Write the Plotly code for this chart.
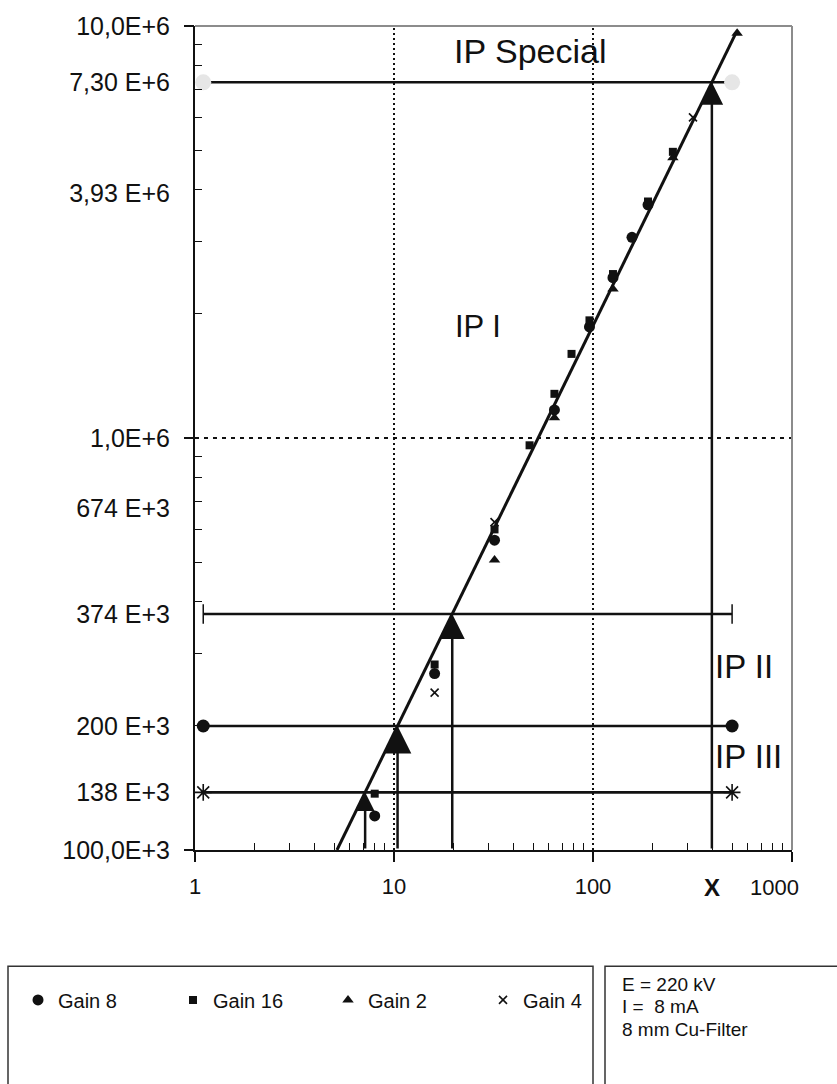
import math
import plotly.graph_objects as go

# ---- measured signal per gain setting (x: exposure, y: grey value) ----
gain8_x = [8, 16, 32, 64, 96, 126, 157, 189]
gain8_y = [121e3, 268e3, 565e3, 1.17e6, 1.86e6, 2.45e6, 3.07e6, 3.68e6]
gain16_x = [8, 16, 32, 48, 64, 78, 96, 126, 189, 252]
gain16_y = [137e3, 282e3, 600e3, 960e3, 1.28e6, 1.60e6, 1.93e6, 2.50e6, 3.75e6, 4.95e6]
gain2_x = [32, 64, 126, 252, 530]
gain2_y = [506e3, 1.12e6, 2.30e6, 4.79e6, 9.60e6]
gain4_x = [16, 32, 318]
gain4_y = [241e3, 625e3, 6.0e6]

# ---- power-law fit through all gains (end points of the drawn line) ----
fit_x = [5.17, 523]
fit_y = [1.0e5, 9.62e6]

# ---- image plate limits ----
level_names = ["IP Special", "IP I/II", "IP II/III", "IP III"]
level_y = [7.30e6, 374e3, 200e3, 138e3]
level_x = [1.1, 500]

# ---- axis labels ----
ytick_vals = [1e7, 7.30e6, 3.93e6, 1e6, 674e3, 374e3, 200e3, 138e3, 1e5]
ytick_text = ["10,0E+6", "7,30 E+6", "3,93 E+6", "1,0E+6", "674 E+3",
              "374 E+3", "200 E+3", "138 E+3", "100,0E+3"]
xtick_vals = [1, 10, 100, 1000]
xtick_text = ["1", "10", "100", ""]

FONT = "Liberation Sans, Arial, sans-serif"
BLACK = "#111111"

# fit parameters: y = a * x^b
b = math.log10(fit_y[1] / fit_y[0]) / math.log10(fit_x[1] / fit_x[0])
log_a = math.log10(fit_y[0]) - b * math.log10(fit_x[0])


def x_on_fit(y):
    return 10 ** ((math.log10(y) - log_a) / b)


fig = go.Figure()

# reference grid: dotted verticals at 10 and 100, dashed horizontal at 1E+6
for xv in [10, 100]:
    fig.add_trace(go.Scatter(x=[xv, xv], y=[1e5, 1e7], mode="lines",
                             line=dict(color=BLACK, width=2, dash="2px,3px"),
                             showlegend=False, hoverinfo="skip"))
fig.add_trace(go.Scatter(x=[1, 1000], y=[1e6, 1e6], mode="lines",
                         line=dict(color=BLACK, width=1.8, dash="4px,5px"),
                         showlegend=False, hoverinfo="skip"))

# plate limit lines
level_markers = [
    dict(symbol="circle", size=16, color="#e6e6e6"),
    dict(symbol="line-ns-open", size=14, color=BLACK, line=dict(color=BLACK, width=1.5)),
    dict(symbol="circle", size=13, color=BLACK),
    dict(symbol="asterisk-open", size=14, color=BLACK, line=dict(color=BLACK, width=1.6)),
]
for yv, mk in zip(level_y, level_markers):
    fig.add_trace(go.Scatter(x=level_x, y=[yv, yv], mode="lines+markers",
                             line=dict(color=BLACK, width=2.6), marker=mk,
                             showlegend=False, hoverinfo="skip"))

# fitted line
fig.add_trace(go.Scatter(x=fit_x, y=fit_y, mode="lines",
                         line=dict(color=BLACK, width=3),
                         showlegend=False, hoverinfo="skip"))

# measured points
fig.add_trace(go.Scatter(x=gain8_x, y=gain8_y, mode="markers", name="Gain 8",
                         marker=dict(symbol="circle", size=11, color=BLACK)))
fig.add_trace(go.Scatter(x=gain16_x, y=gain16_y, mode="markers", name="Gain 16",
                         marker=dict(symbol="square", size=8, color=BLACK)))
fig.add_trace(go.Scatter(x=gain2_x, y=gain2_y, mode="markers", name="Gain 2",
                         marker=dict(symbol="triangle-up", size=10, color=BLACK)))
fig.add_trace(go.Scatter(x=gain4_x, y=gain4_y, mode="markers", name="Gain 4",
                         marker=dict(symbol="x-thin-open", size=8, color=BLACK,
                                     line=dict(color=BLACK, width=1.6))))

# carrier trace for the overlay axis that holds the decade ticks
fig.add_trace(go.Scatter(x=[1], y=[1e6], xaxis="x", yaxis="y2", mode="markers",
                         marker=dict(opacity=0), showlegend=False, hoverinfo="skip"))

annotations = []
# arrows from the x axis up to where the fit meets each plate limit
head_sizes = [1.8, 2.0, 2.2, 1.5]
for yv, hs in zip(level_y, head_sizes):
    xv = x_on_fit(yv)
    annotations.append(dict(
        x=math.log10(xv), y=math.log10(yv), ax=math.log10(xv), ay=5,
        xref="x", yref="y", axref="x", ayref="y", text="",
        showarrow=True, arrowhead=2, arrowsize=hs, arrowwidth=2.5,
        arrowcolor=BLACK, standoff=0))

# region labels
region_labels = [("IP Special", 48, 8.7e6, 34), ("IP I", 26.4, 1.87e6, 31),
                 ("IP II", 574, 279e3, 33), ("IP III", 601, 169e3, 33)]
for txt, xv, yv, fs in region_labels:
    annotations.append(dict(x=math.log10(xv), y=math.log10(yv), xref="x", yref="y",
                            text=txt, showarrow=False,
                            font=dict(family=FONT, size=fs, color=BLACK)))

# "X" under the IP Special read-off, and the 1000 label
annotations.append(dict(x=math.log10(x_on_fit(level_y[0])), y=-0.046, xref="x", yref="paper",
                        text="<b>X</b>", showarrow=False, yanchor="middle",
                        font=dict(family=FONT, size=24, color=BLACK)))
annotations.append(dict(x=3, y=-0.046, xref="x", yref="paper", xshift=-18,
                        text="1000", showarrow=False, yanchor="middle",
                        font=dict(family=FONT, size=22, color=BLACK)))

# exposure conditions box text
cond_lines = ["E = 220 kV", "I =  8 mA", "8 mm Cu-Filter"]
for i, txt in enumerate(cond_lines):
    annotations.append(dict(x=(620 - 195) / 597, y=1 - (985 + 23 * i - 20) / 830,
                            xref="paper", yref="paper", xanchor="left", yanchor="middle",
                            text=txt, showarrow=False,
                            font=dict(family=FONT, size=19, color=BLACK)))

shapes = [
    # top and right frame
    dict(type="line", xref="paper", yref="paper", x0=0, x1=1, y0=1, y1=1,
         line=dict(color="#8c8c8c", width=2)),
    dict(type="line", xref="paper", yref="paper", x0=1, x1=1, y0=0, y1=1,
         line=dict(color="#8c8c8c", width=2)),
    # legend and conditions boxes
    dict(type="rect", xref="paper", yref="paper",
         x0=(8 - 195) / 597, x1=(593 - 195) / 597, y0=-0.4, y1=1 - (967 - 20) / 830,
         line=dict(color="#333333", width=1.5)),
    dict(type="rect", xref="paper", yref="paper",
         x0=(605 - 195) / 597, x1=(860 - 195) / 597, y0=-0.4, y1=1 - (967 - 20) / 830,
         line=dict(color="#333333", width=1.5)),
]

minor_x = [m * d for d in (1, 10, 100) for m in range(2, 10)]
minor_y = [m * d for d in (1e5, 1e6) for m in range(2, 10)]

fig.update_layout(
    width=837, height=1084,
    margin=dict(l=195, r=45, t=20, b=234),
    paper_bgcolor="white", plot_bgcolor="white",
    font=dict(family=FONT, color=BLACK),
    xaxis=dict(type="log", range=[0, 3], showgrid=False, zeroline=False,
               showline=True, linecolor=BLACK, linewidth=2,
               tickmode="array", tickvals=xtick_vals, ticktext=xtick_text,
               ticks="outside", ticklen=10, tickwidth=1.5, tickcolor=BLACK,
               tickfont=dict(size=22, family=FONT, color=BLACK),
               ticklabelstandoff=6,
               minor=dict(tickmode="array", tickvals=minor_x, ticks="inside",
                          ticklen=7, tickwidth=1.3, tickcolor=BLACK, showgrid=False)),
    # labelled values: tick marks are transparent, they only set the label gap
    yaxis=dict(type="log", range=[5, 7], showgrid=False, zeroline=False,
               showline=True, linecolor=BLACK, linewidth=2,
               tickmode="array", tickvals=ytick_vals, ticktext=ytick_text,
               ticks="outside", ticklen=18, tickcolor="rgba(0,0,0,0)",
               tickfont=dict(size=25, family=FONT, color=BLACK)),
    yaxis2=dict(type="log", range=[5, 7], overlaying="y", side="left", anchor="x",
                showgrid=False, zeroline=False, showline=False,
                tickmode="array", tickvals=[1e5, 1e6, 1e7], showticklabels=False,
                ticks="outside", ticklen=10, tickwidth=1.5, tickcolor=BLACK,
                minor=dict(tickmode="array", tickvals=minor_y, ticks="inside",
                           ticklen=7, tickwidth=1.3, tickcolor=BLACK, showgrid=False)),
    showlegend=True,
    legend=dict(orientation="h", x=(18 - 195) / 597, y=1 - (1001 - 20) / 830,
                xanchor="left", yanchor="middle", bgcolor="rgba(0,0,0,0)",
                font=dict(size=20, family=FONT, color=BLACK),
                entrywidth=110, entrywidthmode="pixels"),
    annotations=annotations,
    shapes=shapes,
)

fig.write_html("out.html")
